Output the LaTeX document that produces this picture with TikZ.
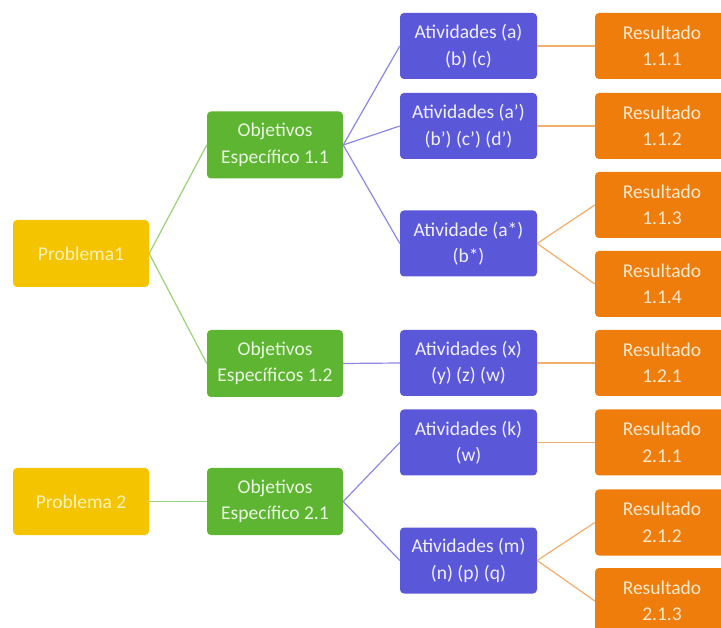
\documentclass[tikz,border=0pt]{standalone}
\usepackage{fontspec}
\setmainfont{Carlito}
\definecolor{cyel}{HTML}{F5C400}
\definecolor{cgrn}{HTML}{5DB532}
\definecolor{cblu}{HTML}{5B57D9}
\definecolor{corg}{HTML}{EF7D0B}
\definecolor{tyel}{HTML}{FFF2B8}
\definecolor{tgrn}{HTML}{E9F6E0}
\definecolor{tblu}{HTML}{F0F0FF}
\definecolor{torg}{HTML}{FFE8CC}
\definecolor{lgrn}{HTML}{9AD27A}
\definecolor{lblu}{HTML}{8C88E6}
\definecolor{lorg}{HTML}{F3AE6A}
\tikzset{
  box/.style={rectangle, rounded corners=4pt, align=center, inner sep=0pt,
    font=\fontsize{19.5}{26.5}\selectfont},
  probbox/.style={box, fill=cyel, text=tyel, minimum width=136pt, minimum height=67pt},
  objbox/.style={box, fill=cgrn, text=tgrn, minimum width=136pt, minimum height=67pt},
  actbox/.style={box, fill=cblu, text=tblu, minimum width=137pt, minimum height=66pt},
  resbox/.style={box, fill=corg, text=torg, minimum width=134pt, minimum height=66pt},
  gline/.style={draw=lgrn, line width=1.2pt},
  bline/.style={draw=lblu, line width=1.2pt},
  oline/.style={draw=lorg, line width=1.2pt},
}
\begin{document}
\begin{tikzpicture}[x=1pt,y=-1pt]
\useasboundingbox[fill=white] (0,0) rectangle (721,628);
\begin{scope}
\clip (0,0) rectangle (721,628);
% problems
\node[probbox] (p1) at (81,253.5) {Problema1};
\node[probbox] (p2) at (81,501.5) {Problema 2};
% objectives
\node[objbox] (o11) at (275,145) {Objetivos\\Específico 1.1};
\node[objbox] (o12) at (275,363.5) {Objetivos\\Específicos 1.2};
\node[objbox] (o21) at (275,501.5) {Objetivos\\Específico 2.1};
% activities
\node[actbox] (a1) at (468.5,46) {Atividades (a)\\(b) (c)};
\node[actbox] (a2) at (468.5,126) {Atividades (a')\\(b') (c') (d')};
\node[actbox] (a3) at (468.5,243.5) {Atividade (a*)\\(b*)};
\node[actbox] (ax) at (468.5,363) {Atividades (x)\\(y) (z) (w)};
\node[actbox] (ak) at (468.5,442.5) {Atividades (k)\\(w)};
\node[actbox] (am) at (468.5,560.5) {Atividades (m)\\(n) (p) (q)};
% results
\node[resbox] (r111) at (662,46) {Resultado\\1.1.1};
\node[resbox] (r112) at (662,126) {Resultado\\1.1.2};
\node[resbox] (r113) at (662,205) {Resultado\\1.1.3};
\node[resbox] (r114) at (662,284) {Resultado\\1.1.4};
\node[resbox] (r121) at (662,363) {Resultado\\1.2.1};
\node[resbox] (r211) at (662,442.5) {Resultado\\2.1.1};
\node[resbox] (r212) at (662,522.5) {Resultado\\2.1.2};
\node[resbox] (r213) at (662,601) {Resultado\\2.1.3};
% connectors
\draw[gline] (p1.east) -- (o11.west);
\draw[gline] (p1.east) -- (o12.west);
\draw[gline] (p2.east) -- (o21.west);
\draw[bline] (o11.east) -- (a1.west);
\draw[bline] (o11.east) -- (a2.west);
\draw[bline] (o11.east) -- (a3.west);
\draw[bline] (o12.east) -- (ax.west);
\draw[bline] (o21.east) -- (ak.west);
\draw[bline] (o21.east) -- (am.west);
\draw[oline] (a1.east) -- (r111.west);
\draw[oline] (a2.east) -- (r112.west);
\draw[oline] (a3.east) -- (r113.west);
\draw[oline] (a3.east) -- (r114.west);
\draw[oline] (ax.east) -- (r121.west);
\draw[oline] (ak.east) -- (r211.west);
\draw[oline] (am.east) -- (r212.west);
\draw[oline] (am.east) -- (r213.west);
\end{scope}
\end{tikzpicture}
\end{document}
